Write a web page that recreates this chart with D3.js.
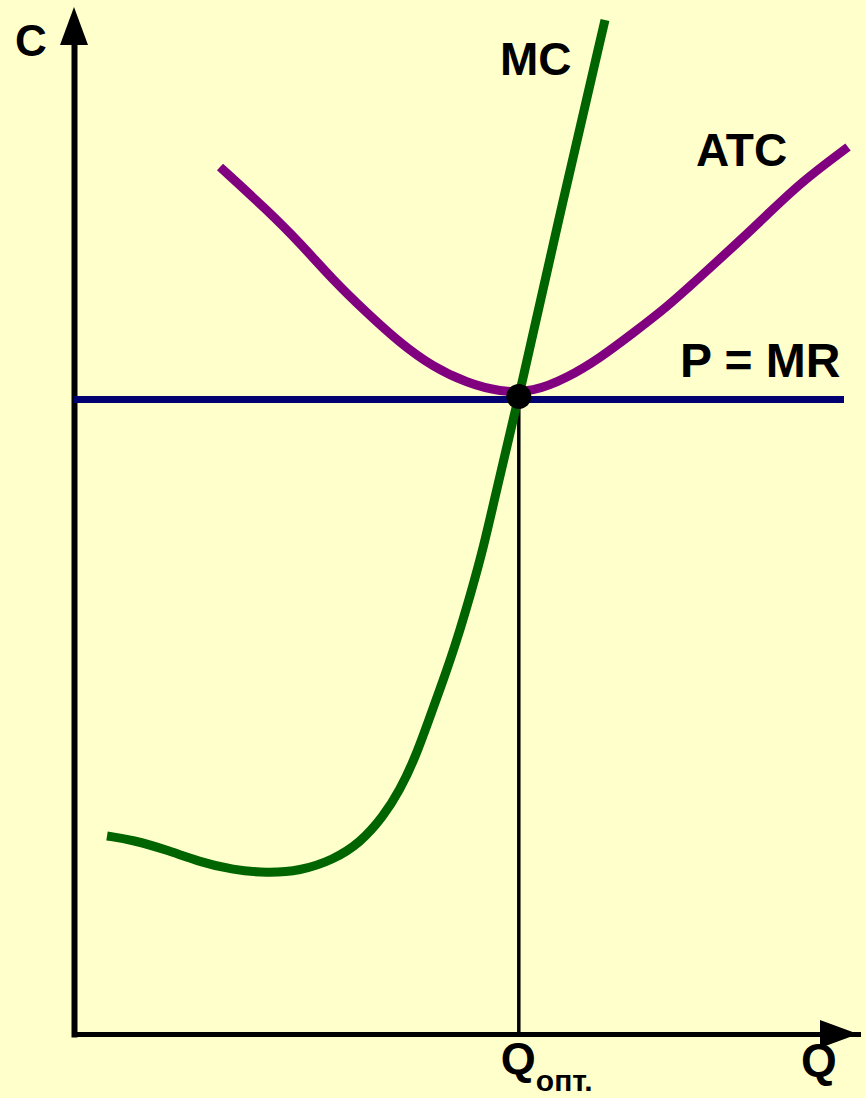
<!DOCTYPE html>
<html>
<head>
<meta charset="utf-8">
<script src="https://cdn.jsdelivr.net/npm/d3@7"></script>
<style>
  html, body { margin: 0; padding: 0; background: #FFFFCC; }
  svg { display: block; }
  text { font-family: "Liberation Sans", Arial, sans-serif; font-weight: bold; fill: #000; }
</style>
</head>
<body>
<svg id="chart" width="865" height="1098"></svg>
<script>
// ---- Data (model units: Q along the horizontal axis, C along the vertical axis) ----
const mcQ = [4.125, 7.375, 11.625, 15.75, 19.875, 24.125, 28.25, 32.375, 35.75, 38.625, 40.75, 42.625,
             44.125, 46.125, 47.875, 49.5, 51.125, 53.25, 55.625, 61.125, 66.375];
const mcC = [19.8, 19.4, 18.4, 17.2, 16.4, 16.1, 16.3, 17.4, 19.1, 21.7, 24.4, 27.6,
             30.9, 35.3, 39.4, 43.8, 48.4, 55.9, 63.7, 83.4, 101.4];

const atcQ = [18.25, 24.125, 28.25, 32.375, 36.625, 40.75, 44.875, 49.125, 53.25, 57.375,
              61.625, 65.75, 69.875, 74.125, 78.25, 82.375, 86.625, 90.75, 96.75];
const atcC = [86.7, 82.4, 79.1, 75.4, 72.1, 69.1, 66.7, 65.1, 64.2, 64.2,
              65.6, 67.6, 70.1, 72.7, 75.7, 78.7, 81.9, 85.1, 88.7];

const priceQ = [0, 96.25];       // horizontal P = MR line, extent in Q
const priceLevel = 63.45;        // P = MR
const optimum = { q: 55.6, c: 63.75 };  // MC = ATC = MR point

const axisLabels = { y: "C", x: "Q", opt: "Q", optSub: "опт." };
const curveLabels = ["MC", "ATC", "P = MR"];

// ---- Scales ----
const x = d3.scaleLinear().domain([0, 98]).range([74, 858]);
const y = d3.scaleLinear().domain([0, 100]).range([1034, 34]);

const svg = d3.select("#chart");
svg.append("rect").attr("width", 865).attr("height", 1098).attr("fill", "#FFFFCC");

// ---- Axes ----
const xAxis = svg.append("g").attr("transform", `translate(0,${y(0)})`)
  .call(d3.axisBottom(x).tickValues([]).tickSizeOuter(0));
xAxis.select(".domain").attr("stroke", "#000").attr("stroke-width", 5).attr("stroke-linecap", "square");

const yAxis = svg.append("g").attr("transform", `translate(${x(0)},0)`)
  .call(d3.axisLeft(y).tickValues([]).tickSizeOuter(0));
yAxis.select(".domain").attr("stroke", "#000").attr("stroke-width", 6).attr("stroke-linecap", "square");

// arrow heads
const xEnd = x.range()[1], yTop = y.range()[1] - 27;
svg.append("path")
  .attr("d", `M${xEnd},${y(0)} L${xEnd - 38},${y(0) - 14} L${xEnd - 38},${y(0) + 14} Z`)
  .attr("fill", "#000");
svg.append("path")
  .attr("d", `M${x(0)},${yTop} L${x(0) - 14},${yTop + 38} L${x(0) + 14},${yTop + 38} Z`)
  .attr("fill", "#000");

// ---- Lines ----
const line = d3.line().x(d => x(d[0])).y(d => y(d[1])).curve(d3.curveBasis);

// vertical line from optimum to Q axis
svg.append("line")
  .attr("x1", x(optimum.q)).attr("x2", x(optimum.q))
  .attr("y1", y(optimum.c)).attr("y2", y(0))
  .attr("stroke", "#000").attr("stroke-width", 3.5);

// P = MR
svg.append("line")
  .attr("x1", x(priceQ[0])).attr("x2", x(priceQ[1]))
  .attr("y1", y(priceLevel)).attr("y2", y(priceLevel))
  .attr("stroke", "#000070").attr("stroke-width", 7);

// ATC
svg.append("path")
  .datum(atcQ.map((q, i) => [q, atcC[i]]))
  .attr("d", line)
  .attr("fill", "none").attr("stroke", "#800080").attr("stroke-width", 9);

// MC
svg.append("path")
  .datum(mcQ.map((q, i) => [q, mcC[i]]))
  .attr("d", line)
  .attr("fill", "none").attr("stroke", "#006400").attr("stroke-width", 9);

// optimum point
svg.append("circle")
  .attr("cx", x(optimum.q)).attr("cy", y(optimum.c)).attr("r", 12.5)
  .attr("fill", "#000");

// ---- Labels ----
svg.append("text").attr("x", 15).attr("y", 56).attr("font-size", 44).text(axisLabels.y);
svg.append("text").attr("x", 801).attr("y", 1076).attr("font-size", 46).text(axisLabels.x);

const opt = svg.append("text").attr("y", 1074).attr("font-size", 45);
opt.append("tspan").attr("x", x(optimum.q) - 18).text(axisLabels.opt);
opt.append("tspan").attr("dy", 17).attr("font-size", 30).text(axisLabels.optSub);

svg.append("text").attr("x", 500).attr("y", 75).attr("font-size", 46).text(curveLabels[0]);
svg.append("text").attr("x", 696).attr("y", 166).attr("font-size", 46).text(curveLabels[1]);
svg.append("text").attr("x", 680).attr("y", 377).attr("font-size", 48).text(curveLabels[2]);
</script>
</body>
</html>
